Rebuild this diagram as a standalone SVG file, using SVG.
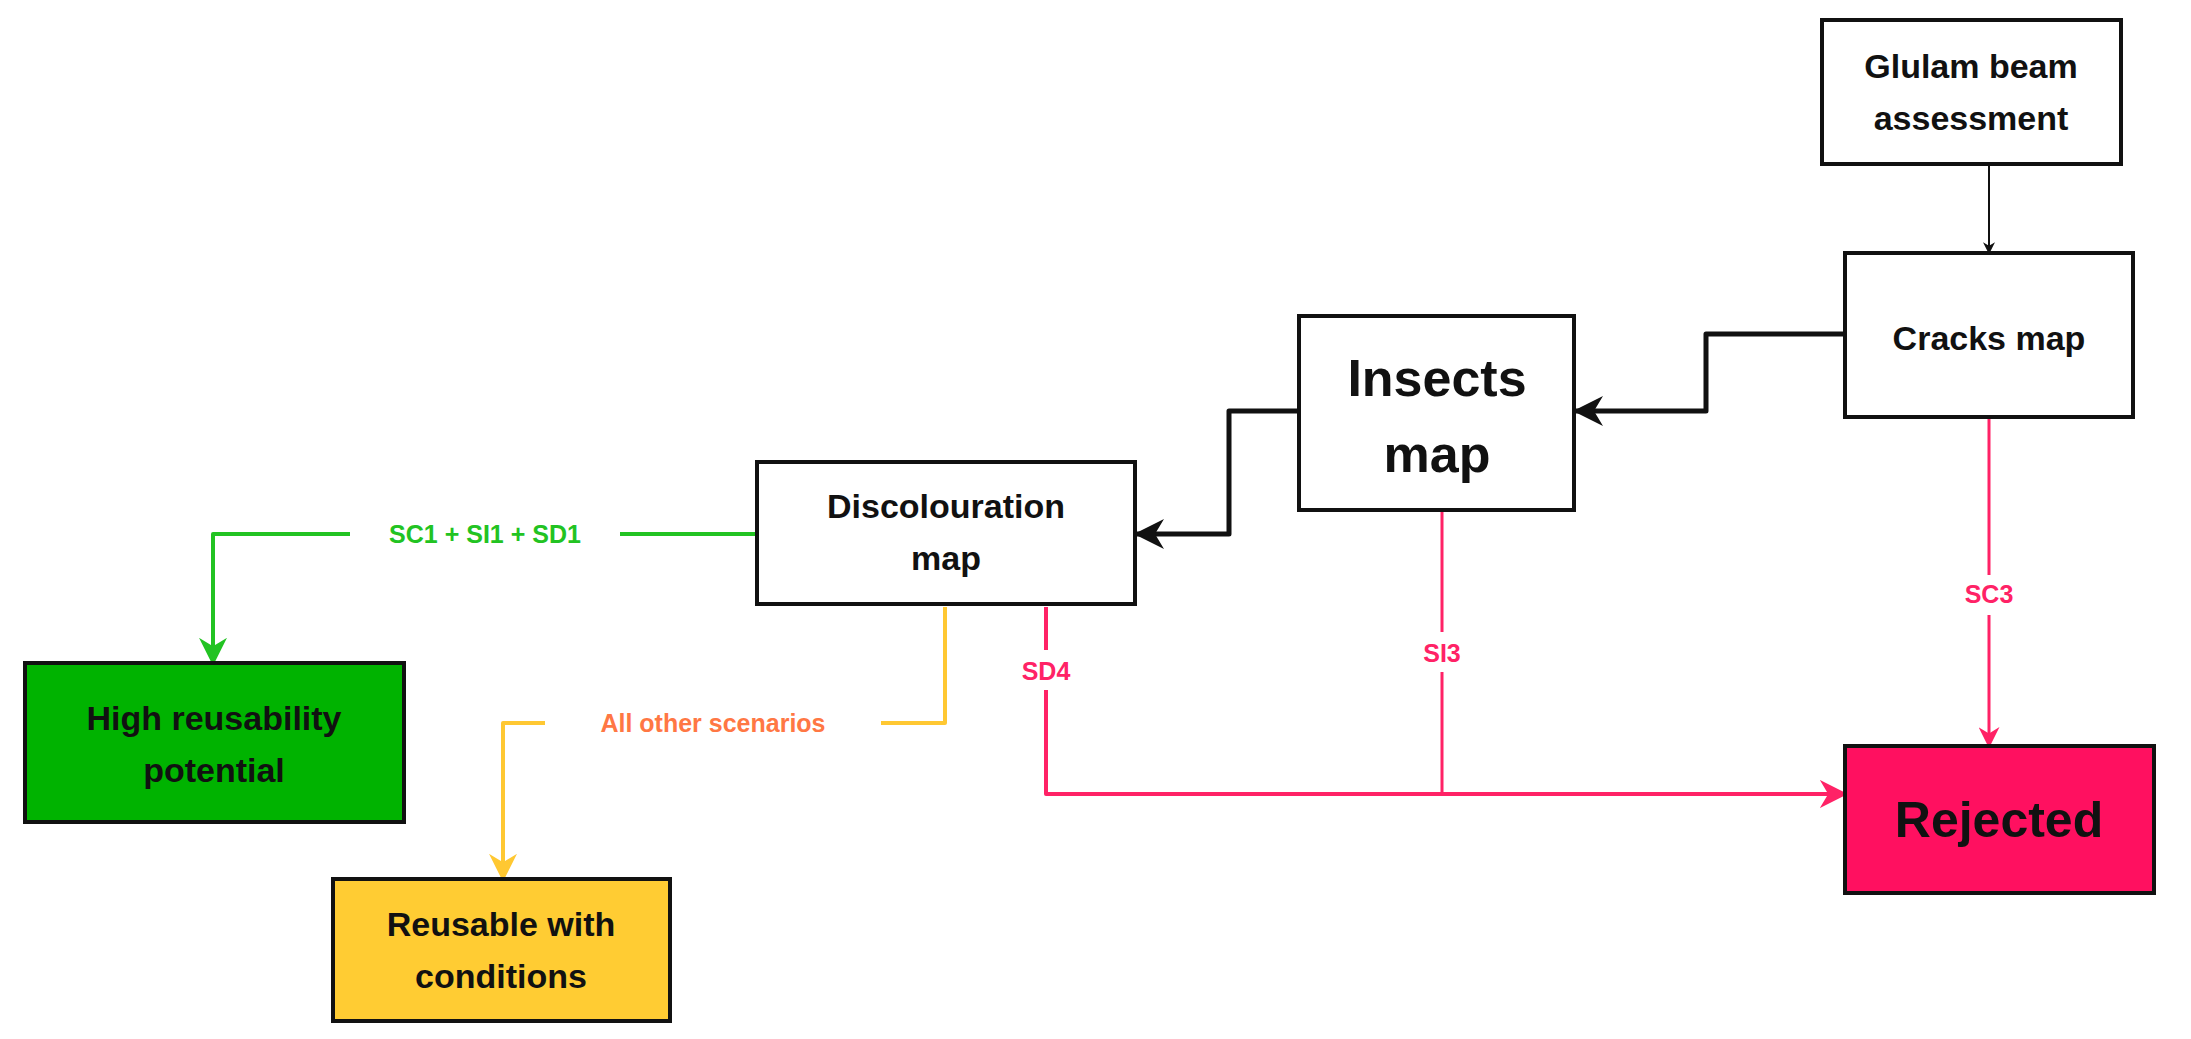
<svg xmlns="http://www.w3.org/2000/svg" width="2191" height="1039" viewBox="0 0 2191 1039">
<defs>
<style>
.n{stroke:#111;stroke-width:4;fill:#fff}
.t{font-family:"Liberation Sans",Arial,sans-serif;font-weight:bold;fill:#111;text-anchor:middle}
.l{font-family:"Liberation Sans",Arial,sans-serif;font-weight:bold;text-anchor:middle;font-size:25px}
.c{fill:none;stroke-linejoin:round}
</style>
<marker id="ab" viewBox="0 0 10 10" refX="9" refY="5" markerWidth="5" markerHeight="5" orient="auto" markerUnits="userSpaceOnUse" style="overflow:visible"><path d="M0,0L10,5L0,10z" fill="#111"/></marker>
<marker id="ab2" viewBox="0 0 10 10" refX="9" refY="5" markerWidth="6" markerHeight="6" orient="auto"><path d="M0,0L10,5L0,10L3,5z" fill="#111"/></marker>
<marker id="ag" viewBox="0 0 10 10" refX="9" refY="5" markerWidth="7" markerHeight="7" orient="auto"><path d="M0,0L10,5L0,10L3,5z" fill="#22C322"/></marker>
<marker id="ay" viewBox="0 0 10 10" refX="9" refY="5" markerWidth="7" markerHeight="7" orient="auto"><path d="M0,0L10,5L0,10L3,5z" fill="#FFC832"/></marker>
<marker id="ap" viewBox="0 0 10 10" refX="9" refY="5" markerWidth="7" markerHeight="7" orient="auto"><path d="M0,0L10,5L0,10L3,5z" fill="#FF2266"/></marker>
</defs>
<rect width="2191" height="1039" fill="#fff"/>
<g id="connectors">
<path class="c" d="M1989,164V253" stroke="#111" stroke-width="2" marker-end="url(#ag)" style="marker-end:url(#ab2)"/>
<path class="c" d="M1845,334H1706V411H1576" stroke="#111" stroke-width="5" marker-end="url(#ab2)"/>
<path class="c" d="M1299,411H1229V534H1137" stroke="#111" stroke-width="5" marker-end="url(#ab2)"/>
<path class="c" d="M757,534H213V663" stroke="#22C322" stroke-width="4" marker-end="url(#ag)"/>
<path class="c" d="M945,607V723H503V879" stroke="#FFC832" stroke-width="4" marker-end="url(#ay)"/>
<path class="c" d="M1046,607V794H1845" stroke="#FF2266" stroke-width="4" marker-end="url(#ap)"/>
<path class="c" d="M1442,510V794" stroke="#FF2266" stroke-width="3"/>
<path class="c" d="M1989,417V746" stroke="#FF2266" stroke-width="3" marker-end="url(#ap)"/>
<rect x="350" y="516" width="270" height="36" fill="#fff"/>
<text class="l" x="485" y="543" fill="#22C322">SC1 + SI1 + SD1</text>
<rect x="545" y="705" width="336" height="36" fill="#fff"/>
<text class="l" x="713" y="732" fill="#FF7744">All other scenarios</text>
<rect x="1010" y="650" width="72" height="40" fill="#fff"/>
<text class="l" x="1046" y="680" fill="#FF2266">SD4</text>
<rect x="1410" y="632" width="64" height="40" fill="#fff"/>
<text class="l" x="1442" y="662" fill="#FF2266">SI3</text>
<rect x="1953" y="575" width="72" height="40" fill="#fff"/>
<text class="l" x="1989" y="603" fill="#FF2266">SC3</text>
</g>
<g id="glulam"><rect class="n" x="1822" y="20" width="299" height="144"/><text class="t" font-size="34" x="1971" y="78">Glulam beam</text><text class="t" font-size="34" x="1971" y="130">assessment</text></g>
<g id="cracks"><rect class="n" x="1845" y="253" width="288" height="164"/><text class="t" font-size="34" x="1989" y="350">Cracks map</text></g>
<g id="insects"><rect class="n" x="1299" y="316" width="275" height="194"/><text class="t" font-size="52" x="1437" y="396">Insects</text><text class="t" font-size="52" x="1437" y="472">map</text></g>
<g id="discolouration"><rect class="n" x="757" y="462" width="378" height="142"/><text class="t" font-size="34" x="946" y="518">Discolouration</text><text class="t" font-size="34" x="946" y="570">map</text></g>
<g id="high"><rect class="n" x="25" y="663" width="379" height="159" style="fill:#00B300"/><text class="t" font-size="34" x="214" y="730">High reusability</text><text class="t" font-size="34" x="214" y="782">potential</text></g>
<g id="conditions"><rect class="n" x="333" y="879" width="337" height="142" style="fill:#FFCC33"/><text class="t" font-size="34" x="501" y="936">Reusable with</text><text class="t" font-size="34" x="501" y="988">conditions</text></g>
<g id="rejected"><rect class="n" x="1845" y="746" width="309" height="147" style="fill:#FF1060"/><text class="t" font-size="50" x="1999" y="837">Rejected</text></g>
</svg>
